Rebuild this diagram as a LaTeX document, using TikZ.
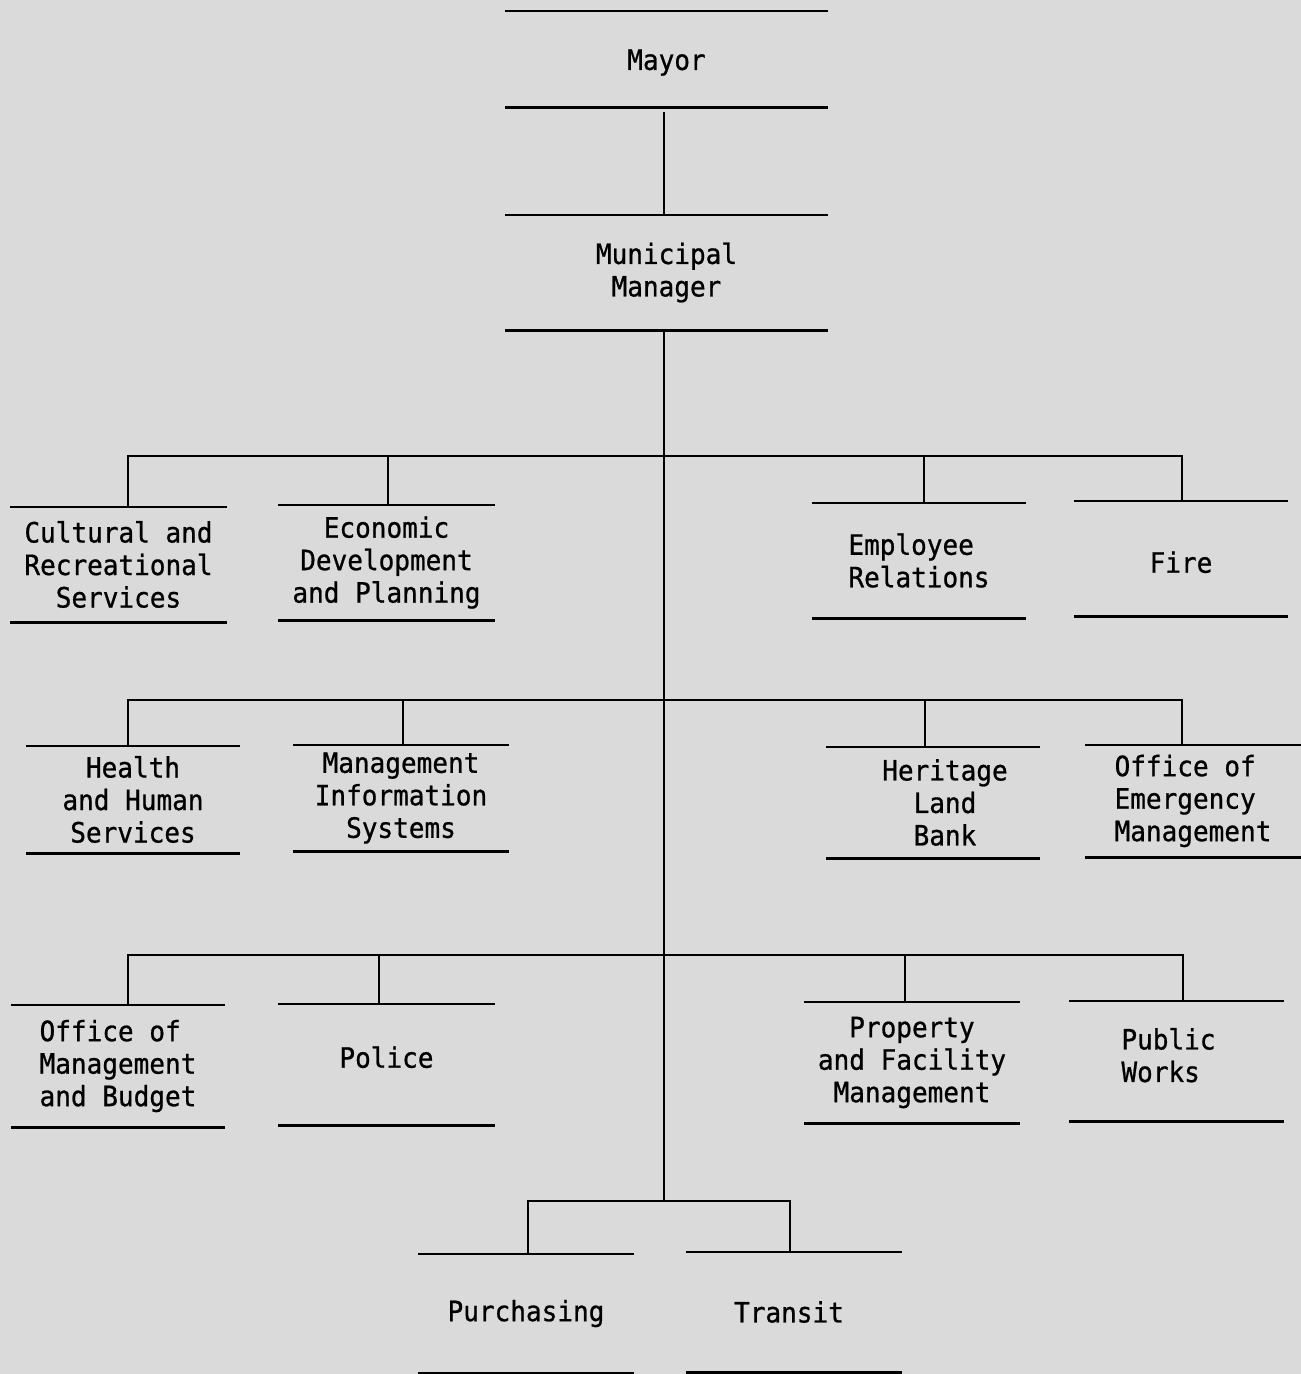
\documentclass[tikz,border=0pt]{standalone}
\usepackage{fontspec}
\usetikzlibrary{calc}
\newfontfamily\deptfont[FakeStretch=0.93,FakeBold=0.8]{DejaVu Sans Mono}
\definecolor{paper}{RGB}{218,218,218}
\tikzset{
  unit/.style={minimum height=#1, inner sep=0pt, align=center,
    font=\deptfont\fontsize{28}{32.5}\selectfont},
  rule/.style={line width=2.6pt},
  link/.style={line width=2.4pt}
}
\begin{document}
\begin{tikzpicture}[x=1pt,y=-1pt]
\useasboundingbox (0,0) rectangle (1301,1374);
\fill[paper] (0,0) rectangle (1301,1374);

% units
\node[unit=96,  minimum width=323, text height=28.4pt, text depth=6.6pt] (mayor) at (666.5,59) {Mayor};
\node[unit=115, minimum width=323] (mm)      at (666.5,272.5) {Municipal\\Manager};

\node[unit=115, minimum width=216] (cult)    at (118.5,564.5) {Cultural and\\Recreational\\Services};
\node[unit=115, minimum width=217] (econ)    at (386.5,562.5) {Economic\\Development\\and Planning};
\node[unit=115, minimum width=214, align=left] (empl) at (919,560.5) {Employee\\Relations};
\node[unit=115, minimum width=214, text height=28.4pt, text depth=0pt] (fire) at (1181,558.5) {Fire};

\node[unit=107, minimum width=214] (health)  at (133,799.5)   {Health\\and Human\\Services};
\node[unit=106, minimum width=216] (mis)     at (401,798)     {Management\\Information\\Systems};
\node[unit=111, minimum width=214] (herit)   at (933,802.5)   {\hspace*{24pt}Heritage\\\hspace*{24pt}Land\\\hspace*{24pt}Bank};
\node[unit=112, minimum width=216, align=left] (oem) at (1193,801) {Office of\\Emergency\\Management};

\node[unit=122, minimum width=214, align=left] (omb) at (118,1066) {Office of\\Management\\and Budget};
\node[unit=121, minimum width=217, text height=20.4pt, text depth=14pt] (police) at (386.5,1064.5) {Police};
\node[unit=121, minimum width=216] (prop)    at (912,1062.5)  {Property\\and Facility\\Management};
\node[unit=120, minimum width=215, align=left, text depth=12pt] (works) at (1176.5,1061) {\hspace*{-16pt}Public\\\hspace*{-16pt}Works};

\node[unit=119, minimum width=216] (purch)   at (526,1313.5)  {Purchasing};
\node[unit=120, minimum width=216] (transit) at (794,1312)    {\hspace*{-10pt}Transit};

% top and bottom rules of each unit
\foreach \n in {mayor,mm,cult,econ,empl,fire,health,mis,herit,oem,omb,police,prop,works,purch,transit}
  \draw[rule] (\n.north west) -- (\n.north east) (\n.south west) -- (\n.south east);

% bus junctions on the trunk
\coordinate (b1) at (664,456);
\coordinate (b2) at (664,700);
\coordinate (b3) at (664,955);
\coordinate (b4) at (664,1201);

% trunk
\draw[link] ($(mayor.south -| b4)+(0,5)$) -- (mm.north -| b4);
\draw[link] (mm.south -| b4) -- (b4);

% row 1
\draw[link] (b1) -| ($(cult.north)+(9.5,0)$);
\draw[link] (b1) -| ($(econ.north)+(1.5,0)$);
\draw[link] (b1) -| ($(empl.north)+(5,0)$);
\draw[link] (b1) -| ($(fire.north)+(1,0)$);

% row 2
\draw[link] (b2) -| ($(health.north)+(-5,0)$);
\draw[link] (b2) -| ($(mis.north)+(2,0)$);
\draw[link] (b2) -| ($(herit.north)+(-8,0)$);
\draw[link] (b2) -| ($(oem.north)+(-11,0)$);

% row 3
\draw[link] (b3) -| ($(omb.north)+(10,0)$);
\draw[link] (b3) -| ($(police.north)+(-7.5,0)$);
\draw[link] (b3) -| ($(prop.north)+(-7,0)$);
\draw[link] (b3) -| ($(works.north)+(6.5,0)$);

% row 4
\draw[link] (b4) -| ($(purch.north)+(2,0)$);
\draw[link] (b4) -| ($(transit.north)+(-4,0)$);
\end{tikzpicture}
\end{document}
